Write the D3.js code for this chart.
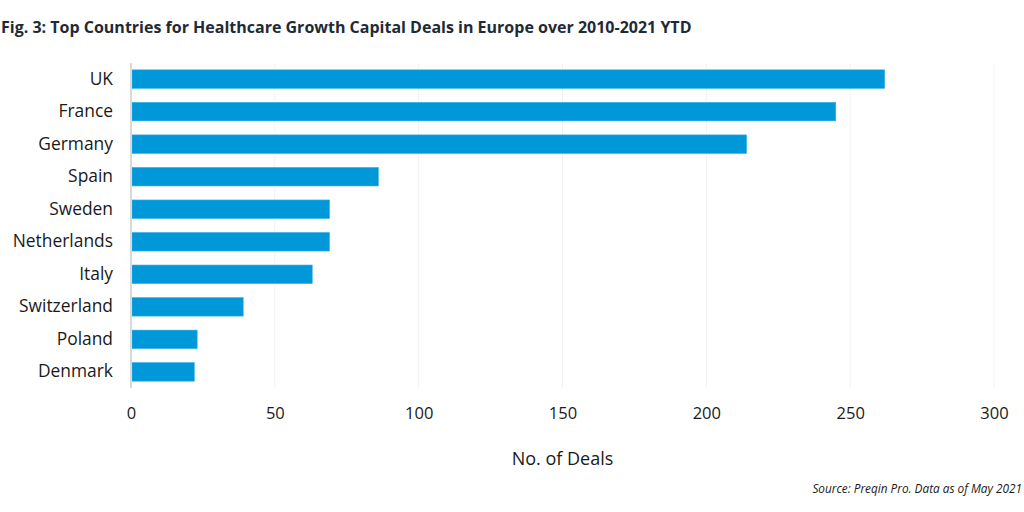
<!DOCTYPE html>
<html>
<head>
<meta charset="utf-8">
<script src="https://cdn.jsdelivr.net/npm/d3@7"></script>
<style>
  body { margin: 0; background: #fff; }
  text { font-family: "Open Sans", sans-serif; }
</style>
</head>
<body>
<div id="chart"></div>
<script>
const countries = ['UK', 'France', 'Germany', 'Spain', 'Sweden', 'Netherlands', 'Italy', 'Switzerland', 'Poland', 'Denmark']
const deals = [262, 245, 214, 86, 69, 69, 63, 39, 23, 22]
const xTicks = [0, 50, 100, 150, 200, 250, 300]

const width = 1024, height = 512
const margins = {top: 63, right: 30, bottom: 124, left: 131}
const colors = {
    bar: '#0098d9',
    barStroke: '#3aaee3',
    grid: '#f1f1f1',
    axis: '#d9d9d9',
    text: '#1a1a1a',
    title: '#1e2b36'
}

const svg = d3.select('#chart')
    .append('svg')
    .attr('width', width)
    .attr('height', height)

const x = d3.scaleLinear()
    .domain([0, 300])
    .range([margins.left, 994])

const y = d3.scaleBand()
    .domain(countries)
    .range([margins.top, height - margins.bottom])
    .paddingInner(0.43)
    .paddingOuter(0.21)

// gridlines
svg.append('g')
    .selectAll('line')
    .data(xTicks.slice(1))
    .join('line')
    .attr('x1', d => x(d))
    .attr('x2', d => x(d))
    .attr('y1', margins.top)
    .attr('y2', height - margins.bottom)
    .attr('stroke', colors.grid)
    .attr('stroke-width', 1)

// bars
svg.append('g')
    .selectAll('rect')
    .data(countries)
    .join('rect')
    .attr('x', x(0) + 1)
    .attr('y', d => y(d))
    .attr('width', (d, i) => x(deals[i]) - x(0) - 1)
    .attr('height', y.bandwidth())
    .attr('fill', colors.bar)
    .attr('stroke', colors.barStroke)
    .attr('stroke-width', 0.6)

// left axis line
svg.append('line')
    .attr('x1', x(0))
    .attr('x2', x(0))
    .attr('y1', margins.top)
    .attr('y2', height - margins.bottom)
    .attr('stroke', colors.axis)
    .attr('stroke-width', 2)

// category labels
const yAxis = svg.append('g')
    .attr('transform', `translate(${x(0) - 18},0)`)
    .call(d3.axisLeft(y).tickSize(0).tickPadding(0))
yAxis.select('.domain').remove()
yAxis.selectAll('text')
    .attr('font-size', 17.4)
    .attr('fill', colors.text)
    .attr('font-family', 'Open Sans')

// x tick labels
const xAxis = svg.append('g')
    .attr('transform', `translate(0,${height - margins.bottom + 15})`)
    .call(d3.axisBottom(x).tickValues(xTicks).tickSize(0).tickPadding(4))
xAxis.select('.domain').remove()
xAxis.selectAll('text')
    .attr('font-size', 16.5)
    .attr('fill', colors.text)
    .attr('font-family', 'Open Sans')

// axis title
svg.append('text')
    .attr('x', x(150))
    .attr('y', 465)
    .attr('text-anchor', 'middle')
    .attr('font-size', 18)
    .attr('fill', colors.text)
    .text('No. of Deals')

// title
svg.append('text')
    .attr('x', 1)
    .attr('y', 33)
    .attr('font-size', 16)
    .attr('font-weight', 'bold')
    .attr('fill', colors.title)
    .text('Fig. 3: Top Countries for Healthcare Growth Capital Deals in Europe over 2010-2021 YTD')

// source
svg.append('text')
    .attr('x', 1022)
    .attr('y', 493)
    .attr('text-anchor', 'end')
    .attr('font-size', 11.8)
    .attr('font-style', 'italic')
    .attr('fill', colors.text)
    .text('Source: Preqin Pro. Data as of May 2021')
</script>
</body>
</html>
